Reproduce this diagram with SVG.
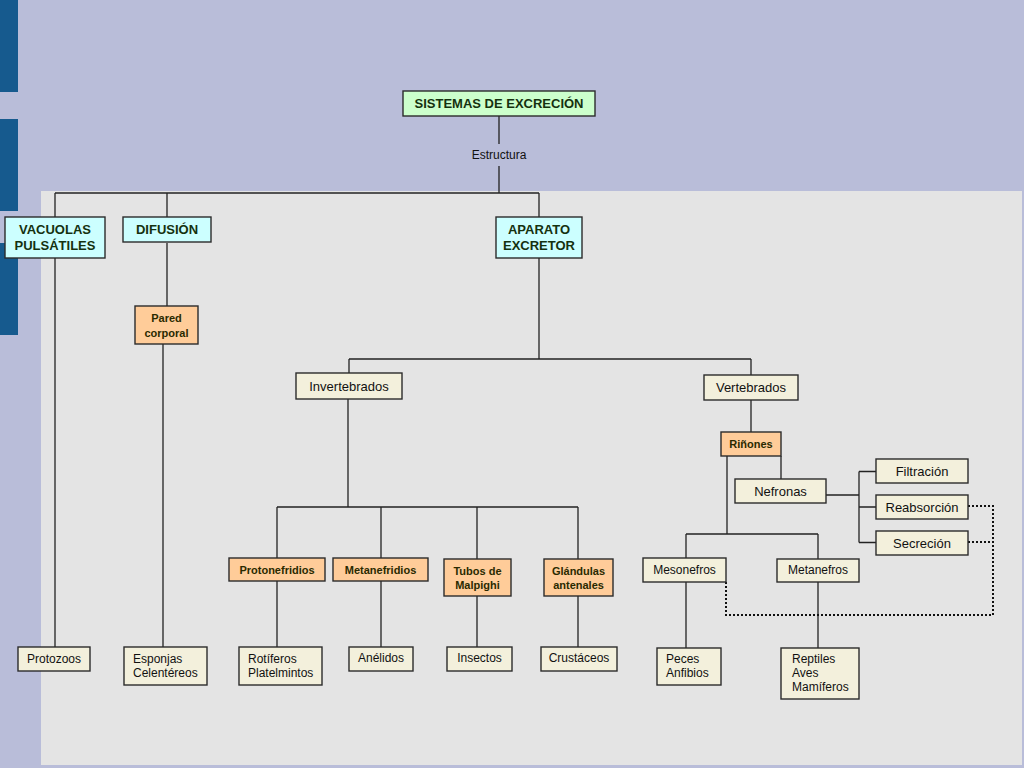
<svg xmlns="http://www.w3.org/2000/svg" width="1024" height="768" viewBox="0 0 1024 768">
<defs>
<style>
.box{stroke:#2b2b2b;stroke-width:1.4}
.g{fill:#ccffcc}
.c{fill:#ccffff}
.o{fill:#ffcc99}
.b{fill:#f3f0dc}
.t{font-family:"Liberation Sans",Arial,sans-serif;font-size:13px;fill:#111;text-anchor:middle}
.tb{font-family:"Liberation Sans",Arial,sans-serif;font-size:13px;font-weight:bold;fill:#15310f;text-anchor:middle}
.to{font-family:"Liberation Sans",Arial,sans-serif;font-size:11px;font-weight:bold;fill:#2a2a00;text-anchor:middle}
.ts{font-family:"Liberation Sans",Arial,sans-serif;font-size:12px;fill:#111}
.tsc{font-family:"Liberation Sans",Arial,sans-serif;font-size:12px;fill:#111;text-anchor:middle}
.ln{fill:none;stroke:#222;stroke-width:1.3}
.dt{fill:none;stroke:#111;stroke-width:2;stroke-dasharray:2 2}
</style>
</defs>
<rect x="0" y="0" width="1024" height="768" fill="#b9bdd9"/>
<rect x="41" y="191" width="981" height="574" fill="#e4e4e4"/>
<rect x="0" y="0" width="18" height="92" fill="#165a8e"/>
<rect x="0" y="119" width="18" height="92" fill="#165a8e"/>
<rect x="0" y="243" width="18" height="92" fill="#165a8e"/>

<g id="connectors">
<path class="ln" d="M499,116V144M499,166V193M55,193H539M55,193V217M167,193V217M539,193V217"/>
<path class="ln" d="M55,258V647M167,243V306M163,344V647"/>
<path class="ln" d="M539,258V359M349,359H751M349,359V373M751,359V375"/>
<path class="ln" d="M348,399V507M277,507H578M277,507V558M381,507V558M477,507V559M578,507V559"/>
<path class="ln" d="M277,581V647M381,581V647M477,596V647M578,596V647"/>
<path class="ln" d="M751,400V432M781,456V479M727,456V534M686,534H818M686,534V558M818,534V559M686,582V648M818,582V648"/>
<path class="ln" d="M826,495H859M859,471.5V542.5M859,471.5H876M859,507H876M859,542.5H876"/>
<path class="dt" d="M968,506H993V615H726V582M968,542H993"/>
<text class="tsc" x="499" y="159">Estructura</text>
</g>

<g id="n-sistemas"><rect class="box g" x="403" y="91" width="192" height="25"/><text class="tb" x="499" y="108">SISTEMAS DE EXCRECIÓN</text></g>
<g id="n-vacuolas"><rect class="box c" x="5" y="217" width="100" height="41"/><text class="tb" x="55" y="234">VACUOLAS</text><text class="tb" x="55" y="250">PULSÁTILES</text></g>
<g id="n-difusion"><rect class="box c" x="123" y="217" width="88" height="25"/><text class="tb" x="167" y="234">DIFUSIÓN</text></g>
<g id="n-aparato"><rect class="box c" x="496" y="217" width="86" height="41"/><text class="tb" x="539" y="234">APARATO</text><text class="tb" x="539" y="250">EXCRETOR</text></g>
<g id="n-pared"><rect class="box o" x="135" y="306" width="63" height="38"/><text class="to" x="166.5" y="322">Pared</text><text class="to" x="166.5" y="337">corporal</text></g>
<g id="n-protozoos"><rect class="box b" x="18" y="647" width="72" height="24"/><text class="tsc" x="54" y="663">Protozoos</text></g>
<g id="n-esponjas"><rect class="box b" x="124" y="647" width="83" height="38"/><text class="ts" x="133" y="663">Esponjas</text><text class="ts" x="133" y="677">Celentéreos</text></g>
<g id="n-invertebrados"><rect class="box b" x="296" y="373" width="106" height="26"/><text class="t" x="349" y="391">Invertebrados</text></g>
<g id="n-vertebrados"><rect class="box b" x="704" y="375" width="94" height="25"/><text class="t" x="751" y="392">Vertebrados</text></g>
<g id="n-protonefridios"><rect class="box o" x="229" y="558" width="96" height="23"/><text class="to" x="277" y="574">Protonefridios</text></g>
<g id="n-metanefridios"><rect class="box o" x="333" y="558" width="95" height="23"/><text class="to" x="380.5" y="574">Metanefridios</text></g>
<g id="n-tubos"><rect class="box o" x="444" y="559" width="67" height="37"/><text class="to" x="477.5" y="575">Tubos de</text><text class="to" x="477.5" y="589">Malpighi</text></g>
<g id="n-glandulas"><rect class="box o" x="544" y="559" width="69" height="37"/><text class="to" x="578.5" y="575">Glándulas</text><text class="to" x="578.5" y="589">antenales</text></g>
<g id="n-rotiferos"><rect class="box b" x="239" y="647" width="83" height="38"/><text class="ts" x="248" y="663">Rotíferos</text><text class="ts" x="248" y="677">Platelmintos</text></g>
<g id="n-anelidos"><rect class="box b" x="349" y="647" width="64" height="24"/><text class="tsc" x="381" y="662">Anélidos</text></g>
<g id="n-insectos"><rect class="box b" x="447" y="647" width="65" height="24"/><text class="tsc" x="479.5" y="662">Insectos</text></g>
<g id="n-crustaceos"><rect class="box b" x="541" y="647" width="76" height="24"/><text class="tsc" x="579" y="662">Crustáceos</text></g>
<g id="n-rinones"><rect class="box o" x="721" y="432" width="60" height="24"/><text class="to" x="751" y="448">Riñones</text></g>
<g id="n-nefronas"><rect class="box b" x="735" y="479" width="91" height="24"/><text class="t" x="780.5" y="496">Nefronas</text></g>
<g id="n-mesonefros"><rect class="box b" x="643" y="558" width="83" height="24"/><text class="tsc" x="684.5" y="574">Mesonefros</text></g>
<g id="n-metanefros"><rect class="box b" x="777" y="559" width="82" height="23"/><text class="tsc" x="818" y="574">Metanefros</text></g>
<g id="n-filtracion"><rect class="box b" x="876" y="459" width="92" height="24"/><text class="t" x="922" y="476">Filtración</text></g>
<g id="n-reabsorcion"><rect class="box b" x="876" y="495" width="92" height="24"/><text class="t" x="922" y="512">Reabsorción</text></g>
<g id="n-secrecion"><rect class="box b" x="876" y="531" width="92" height="24"/><text class="t" x="922" y="548">Secreción</text></g>
<g id="n-peces"><rect class="box b" x="657" y="648" width="64" height="37"/><text class="ts" x="666" y="663">Peces</text><text class="ts" x="666" y="677">Anfibios</text></g>
<g id="n-reptiles"><rect class="box b" x="781" y="648" width="78" height="51"/><text class="ts" x="792" y="663">Reptiles</text><text class="ts" x="792" y="677">Aves</text><text class="ts" x="792" y="691">Mamíferos</text></g>
</svg>
